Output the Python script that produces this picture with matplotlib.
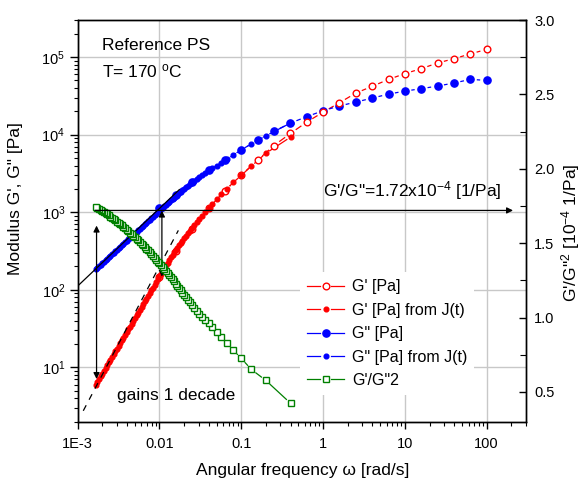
import numpy as np
import matplotlib
matplotlib.use("Agg")
import matplotlib.pyplot as plt
from matplotlib.collections import LineCollection
from matplotlib.lines import Line2D
from matplotlib.legend_handler import HandlerBase
from matplotlib.ticker import (FixedLocator, FixedFormatter, LogLocator,
                               NullFormatter, MultipleLocator, FormatStrFormatter)

plt.rcParams['font.family'] = ['Liberation Sans', 'DejaVu Sans']
plt.rcParams['mathtext.fontset'] = 'custom'
plt.rcParams['mathtext.rm'] = 'Liberation Sans'
plt.rcParams['mathtext.it'] = 'Liberation Sans:italic'
plt.rcParams['mathtext.bf'] = 'Liberation Sans:bold'

# ---- oscillatory frequency sweep (rad/s, Pa) ----
sweep_freq = [0.01, 0.0158, 0.0251, 0.0398, 0.0631, 0.1, 0.158, 0.251, 0.398, 0.631,
              1.0, 1.58, 2.51, 3.98, 6.31, 10.0, 15.8, 25.1, 39.8, 63.1, 100.0]
sweep_gp = [145, 316, 617, 1122, 1905, 3020, 4677, 7244, 10350, 14490,
            19500, 25700, 34300, 41900, 51500, 61100, 70800, 83700, 95300, 109600, 125600]
sweep_gpp = [1122, 1660, 2438, 3451, 4645, 6383, 8414, 11040, 14060, 17060,
             20320, 23440, 26240, 29580, 33270, 36390, 39080, 42270, 46240, 51520, 50000]

# ---- moduli converted from creep compliance J(t) ----
jt_freq = [0.4, 0.2, 0.133, 0.1, 0.08, 0.0667, 0.0571, 0.05, 0.0444, 0.04,
           0.0364, 0.0333, 0.0308, 0.0286, 0.0267, 0.025, 0.0235, 0.0222, 0.0211, 0.02,
           0.01905, 0.01820, 0.01738, 0.01660, 0.01585, 0.01514, 0.01445, 0.01380,
           0.01318, 0.01259, 0.01202, 0.01148, 0.01096, 0.01047, 0.01000, 0.00955,
           0.00912, 0.00871, 0.00832, 0.00794, 0.00759, 0.00724, 0.00692, 0.00661,
           0.00631, 0.00603, 0.00575, 0.00550, 0.00525, 0.00501, 0.00479, 0.00457,
           0.00437, 0.00417, 0.00398, 0.00380, 0.00363, 0.00347, 0.00331, 0.00316,
           0.00302, 0.00288, 0.00275, 0.00263, 0.00251, 0.00240, 0.00229, 0.00219,
           0.00209, 0.00200, 0.00191, 0.00182, 0.00174, 0.00166]
jt_gp = [9290, 5754, 3936, 2985, 2427, 1995, 1698, 1462, 1274, 1122,
         1000, 902, 813, 741, 676, 624, 575, 537, 501, 462,
         429, 401, 375, 350, 326, 303, 282, 262,
         243, 224, 207, 191, 175, 161, 149, 137,
         126, 116, 107, 98.6, 90.8, 83.6, 76.9, 70.8,
         65.3, 60.1, 55.3, 50.9, 46.9, 43.2, 39.8, 36.6,
         33.7, 31.0, 28.6, 26.4, 24.3, 22.3, 20.6, 19.0,
         17.5, 16.1, 14.8, 13.6, 12.6, 11.6, 10.6, 9.80,
         9.02, 8.31, 7.65, 7.04, 6.48, 5.97]
jt_gpp = [14100, 9660, 7585, 6380, 5470, 4830, 4355, 4000, 3710, 3460,
          3225, 3020, 2845, 2685, 2550, 2430, 2305, 2200, 2105, 1995,
          1910, 1828, 1750, 1679, 1611, 1545, 1483, 1419,
          1358, 1300, 1245, 1191, 1140, 1091, 1045, 998,
          955, 914, 874, 836, 800, 764, 731, 700,
          669, 640, 612, 586, 560, 536, 512, 490,
          469, 448, 429, 410, 392, 375, 359, 343,
          328, 314, 300, 287, 275, 263, 251, 240,
          230, 220, 210, 201, 192, 184]
jt_ratio = [0.424, 0.577, 0.651, 0.725, 0.781, 0.830, 0.869, 0.905, 0.937, 0.965,
            0.985, 1.006, 1.026, 1.047, 1.067, 1.085, 1.102, 1.121, 1.137, 1.153,
            1.168, 1.183, 1.198, 1.213, 1.228, 1.243, 1.257, 1.270,
            1.284, 1.297, 1.310, 1.324, 1.337, 1.351, 1.364, 1.376,
            1.388, 1.401, 1.413, 1.426, 1.438, 1.451, 1.463, 1.474,
            1.485, 1.496, 1.507, 1.518, 1.529, 1.540, 1.551, 1.561,
            1.571, 1.580, 1.590, 1.600, 1.609, 1.619, 1.629, 1.637,
            1.645, 1.654, 1.662, 1.670, 1.678, 1.687, 1.695, 1.702,
            1.708, 1.715, 1.721, 1.728, 1.734, 1.741]

# terminal-zone asymptotes: G'' = eta0*w, G' = A*w^2
eta0 = 1.12e5
eta_line_freq = [1e-3, 0.0175]
elastic_A = 2.02e6
elastic_line_freq = [0.00117, 0.0170]

ratio_level = 1.72          # G'/G''^2 plateau, 1e-4 1/Pa
plateau_arrow_freq = [0.00163, 210]
left_arrow_freq = 0.0017
left_arrow_mod = [7.1, 673]
mid_arrow_freq = 0.0107
mid_arrow_mod = [148, 1050]

x_ticks = [1e-3, 1e-2, 1e-1, 1, 10, 100]
x_ticklabels = ['1E-3', '0.01', '0.1', '1', '10', '100']
y_ticks = [1e1, 1e2, 1e3, 1e4, 1e5]
y_ticklabels = [r'$10^{1}$', r'$10^{2}$', r'$10^{3}$', r'$10^{4}$', r'$10^{5}$']

legend_labels = ["G' [Pa]", "G' [Pa] from J(t)", 'G" [Pa]', 'G" [Pa] from J(t)', "G'/G\"2"]

RED = '#ff0000'
BLUE = '#0000ff'
GREEN = '#008000'

W, H = 582, 480
fig = plt.figure(figsize=(W / 100, H / 100), dpi=100)
L, R, T, B = 77.7, 525.7, 20.0, 421.7
ax = fig.add_axes([L / W, 1 - B / H, (R - L) / W, (B - T) / H])
ax.set_xscale('log')
ax.set_yscale('log')
ax.set_xlim(1e-3, 300)
ax.set_ylim(2, 3e5)
ax2 = ax.twinx()
ax2.set_ylim(0.3, 3.0)

# ticks
ax.xaxis.set_major_locator(FixedLocator(x_ticks))
ax.xaxis.set_major_formatter(FixedFormatter(x_ticklabels))
ax.xaxis.set_minor_locator(LogLocator(base=10, subs=np.arange(2, 10), numticks=30))
ax.xaxis.set_minor_formatter(NullFormatter())
ax.yaxis.set_major_locator(FixedLocator(y_ticks))
ax.yaxis.set_major_formatter(FixedFormatter(y_ticklabels))
ax.yaxis.set_minor_locator(LogLocator(base=10, subs=np.arange(2, 10), numticks=30))
ax.yaxis.set_minor_formatter(NullFormatter())
ax.tick_params(axis='x', which='major', direction='out', length=5, width=1,
               labelsize=10.5, pad=6, top=False)
ax.tick_params(axis='x', which='minor', direction='out', length=3, width=0.8, top=False)
ax.tick_params(axis='y', which='major', direction='out', length=6, width=1,
               labelsize=10.5, pad=3, right=False)
ax.tick_params(axis='y', which='minor', direction='out', length=3, width=0.8, right=False)
ax2.yaxis.set_major_locator(MultipleLocator(0.5))
ax2.yaxis.set_minor_locator(MultipleLocator(0.25))
ax2.yaxis.set_major_formatter(FormatStrFormatter('%.1f'))
ax2.tick_params(axis='y', which='major', direction='in', length=5, width=1,
                labelsize=10.5, pad=6)
ax2.tick_params(axis='y', which='minor', direction='in', length=4, width=0.8)
for a in (ax, ax2):
    for s in a.spines.values():
        s.set_linewidth(1.0)

ax.grid(True, which='major', color='#c8c8c8', linewidth=1.0)
ax.set_axisbelow(True)


def draw_gapped(axis, xs, ys, color, gap, lw=0.9, z=2):
    """Connect points with straight segments that stop short of each symbol."""
    pts = axis.transData.transform(np.column_stack([xs, ys]))
    inv = axis.transData.inverted()
    segs = []
    for p, q in zip(pts[:-1], pts[1:]):
        d = q - p
        dist = np.hypot(d[0], d[1])
        if dist <= 2 * gap:
            continue
        u = d / dist
        segs.append(inv.transform(np.array([p + u * gap, q - u * gap])))
    axis.add_collection(LineCollection(segs, colors=color, linewidths=lw, zorder=z),
                        autolim=False)


# connecting lines
draw_gapped(ax, jt_freq, jt_gp, RED, 3.8)
draw_gapped(ax, jt_freq, jt_gpp, BLUE, 3.8)
draw_gapped(ax, sweep_freq, sweep_gp, RED, 6.5)
draw_gapped(ax, sweep_freq, sweep_gpp, BLUE, 6.5)

# symbols
ax.plot(sweep_freq, sweep_gpp, ls='none', marker='o', ms=5.2, mfc=BLUE, mec=BLUE, zorder=3)
ax.plot(sweep_freq, sweep_gp, ls='none', marker='o', ms=4.8, mfc='white', mec=RED,
        mew=1.0, zorder=3)
ax.plot(jt_freq, jt_gpp, ls='none', marker='o', ms=3.4, mfc=BLUE, mec=BLUE, zorder=4)
ax.plot(jt_freq, jt_gp, ls='none', marker='o', ms=3.4, mfc=RED, mec=RED, zorder=4)

# asymptotes
eta_mod = [eta0 * w for w in eta_line_freq]
ax.plot(eta_line_freq, eta_mod, color='black', lw=0.9, zorder=5)
elastic_mod = [elastic_A * w ** 2 for w in elastic_line_freq]
ax.plot(elastic_line_freq, elastic_mod, color='black', lw=0.9, dashes=(5, 5), zorder=5)

# G'/G''^2 on the right axis
draw_gapped(ax2, jt_freq, jt_ratio, GREEN, 5.0, z=2)
ax2.plot(jt_freq, jt_ratio, ls='none', marker='s', ms=4.5, mfc='white', mec=GREEN,
         mew=1.0, zorder=3)

# arrows
ax2.annotate('', xy=(plateau_arrow_freq[1], ratio_level),
             xytext=(plateau_arrow_freq[0], ratio_level),
             arrowprops=dict(arrowstyle='-|>', color='black', lw=0.9,
                             mutation_scale=9, shrinkA=0, shrinkB=0), zorder=6)
ax.annotate('', xy=(left_arrow_freq, left_arrow_mod[0]),
            xytext=(left_arrow_freq, left_arrow_mod[1]),
            arrowprops=dict(arrowstyle='<|-|>', color='black', lw=0.9,
                            mutation_scale=9, shrinkA=0, shrinkB=0), zorder=6)
ax.annotate('', xy=(mid_arrow_freq, mid_arrow_mod[0]),
            xytext=(mid_arrow_freq, mid_arrow_mod[1]),
            arrowprops=dict(arrowstyle='<|-|>', color='black', lw=0.9,
                            mutation_scale=9, shrinkA=0, shrinkB=0), zorder=6)


def fx(px):
    return px / W


def fy(py):
    return 1 - py / H


fig.text(fx(101.7), fy(50), 'Reference PS', fontsize=12.5, va='baseline')
fig.text(fx(101.7), fy(77), r'T= 170 $^{\rm o}$C', fontsize=12.5, va='baseline')
fig.text(fx(323.3), fy(196), "G'/G\"=1.72x10$^{-4}$ [1/Pa]", fontsize=12.5, va='baseline')
fig.text(fx(116.7), fy(400), 'gains 1 decade', fontsize=12.5, va='baseline')

fig.text(fx(302.7), fy(475), 'Angular frequency ω [rad/s]', fontsize=12.5,
         ha='center', va='baseline')
fig.text(fx(16), fy(199), "Modulus G', G\" [Pa]", fontsize=12.5, rotation=90,
         ha='center', va='center')
fig.text(fx(571), fy(233), "G'/G\"$^{2}$ [10$^{-4}$ 1/Pa]", fontsize=12.5, rotation=90,
         ha='center', va='center')


class GapHandler(HandlerBase):
    def __init__(self, gap):
        super().__init__()
        self.gap = gap

    def create_artists(self, legend, orig_handle, xdescent, ydescent, width, height,
                       fontsize, trans):
        y = height / 2 - ydescent
        x0, x1 = -xdescent, width - xdescent
        xc = (x0 + x1) / 2
        col = orig_handle.get_color()
        lw = orig_handle.get_linewidth()
        left = Line2D([x0, xc - self.gap], [y, y], color=col, lw=lw)
        right = Line2D([xc + self.gap, x1], [y, y], color=col, lw=lw)
        mk = Line2D([xc], [y], ls='none', marker=orig_handle.get_marker(),
                    ms=orig_handle.get_markersize(), mfc=orig_handle.get_markerfacecolor(),
                    mec=orig_handle.get_markeredgecolor(), mew=orig_handle.get_markeredgewidth())
        for art in (left, right, mk):
            art.set_transform(trans)
        return [left, right, mk]


h_gp = Line2D([], [], color=RED, lw=0.9, marker='o', ms=4.8, mfc='white', mec=RED, mew=1.0)
h_gp_jt = Line2D([], [], color=RED, lw=0.9, marker='o', ms=3.4, mfc=RED, mec=RED)
h_gpp = Line2D([], [], color=BLUE, lw=0.9, marker='o', ms=5.2, mfc=BLUE, mec=BLUE)
h_gpp_jt = Line2D([], [], color=BLUE, lw=0.9, marker='o', ms=3.4, mfc=BLUE, mec=BLUE)
h_ratio = Line2D([], [], color=GREEN, lw=0.9, marker='s', ms=4.5, mfc='white', mec=GREEN, mew=1.0)
handles = [h_gp, h_gp_jt, h_gpp, h_gpp_jt, h_ratio]
leg = ax2.legend(handles, legend_labels, loc='upper left',
                 bbox_to_anchor=(fx(292), fy(264)), bbox_transform=fig.transFigure,
                 fontsize=11.5, handlelength=2.3, handletextpad=0.5, labelspacing=0.53,
                 borderpad=0.45, frameon=True, fancybox=False, framealpha=1,
                 facecolor='white', edgecolor='none',
                 handler_map={h: GapHandler(3.8) for h in handles})
leg.set_zorder(10)

fig.savefig('out.png', dpi=100)
